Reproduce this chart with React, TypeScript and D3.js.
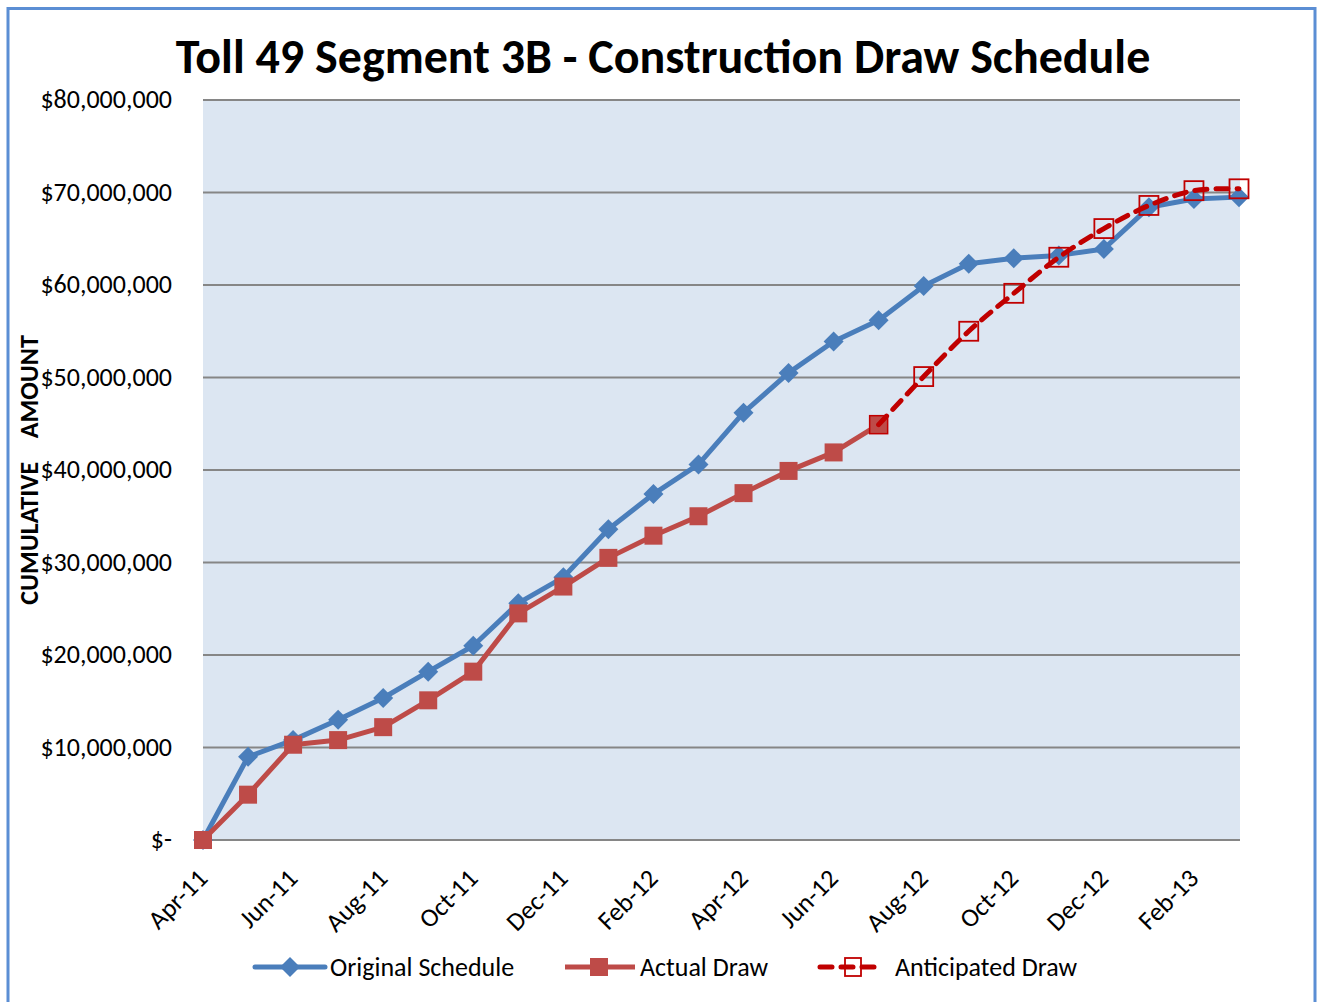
import React from "react";
import * as d3 from "d3";

const months = ["Apr-11","May-11","Jun-11","Jul-11","Aug-11","Sep-11","Oct-11","Nov-11","Dec-11","Jan-12","Feb-12","Mar-12","Apr-12","May-12","Jun-12","Jul-12","Aug-12","Sep-12","Oct-12","Nov-12","Dec-12","Jan-13","Feb-13","Mar-13"];
const originalSchedule = [0, 9.0, 10.8, 13.0, 15.35, 18.2, 21.0, 25.6, 28.4, 33.6, 37.4, 40.6, 46.2, 50.5, 53.9, 56.2, 59.9, 62.3, 62.9, 63.2, 63.9, 68.4, 69.3, 69.5];
const actualDraw = [0, 4.9, 10.3, 10.8, 12.2, 15.1, 18.2, 24.5, 27.4, 30.5, 32.9, 35.0, 37.5, 39.9, 41.9, 44.9];
const anticipatedStart = 15;
const anticipatedDraw = [44.9, 50.1, 55.0, 59.1, 63.0, 66.1, 68.6, 70.2, 70.4];
const yTicks = [0, 10, 20, 30, 40, 50, 60, 70, 80];
const yTickLabels = ["$-", "$10,000,000", "$20,000,000", "$30,000,000", "$40,000,000", "$50,000,000", "$60,000,000", "$70,000,000", "$80,000,000"];

const W = 1318, H = 1002;
const left = 203, right = 1240, top = 100, bottom = 840;
const font = "Carlito, Lato, 'Open Sans', sans-serif";

export default function App() {
  const x = d3.scalePoint<string>().domain(months).range([left, 1239]);
  const y = d3.scaleLinear().domain([0, 80]).range([bottom, top]);
  const lineGen = d3.line<[string, number]>().x(d => x(d[0])!).y(d => y(d[1]));
  const origPts: [string, number][] = originalSchedule.map((v, i) => [months[i], v]);
  const actPts: [string, number][] = actualDraw.map((v, i) => [months[i], v]);
  const antPts: [string, number][] = anticipatedDraw.map((v, i) => [months[i + anticipatedStart], v]);
  const antLine = d3.line<[string, number]>().x(d => x(d[0])!).y(d => y(d[1])).curve(d3.curveCatmullRom.alpha(0.5));
  const diamond = (cx: number, cy: number, r: number) => `M${cx},${cy - r}L${cx + r},${cy}L${cx},${cy + r}L${cx - r},${cy}Z`;
  const blue = "#4a7ebb";
  const red = "#be4b48";
  const dred = "#c00000";
  return (
    <svg width={W} height={H} style={{ position: "absolute", left: 0, top: 0, display: "block" }} fontFamily={font}>
      <rect x={0} y={0} width={W} height={H} fill="#fff" />
      <rect x={8} y={8.5} width={1307} height={1010} fill="#fff" stroke="#5b8ed4" strokeWidth={3} />
      <text x={663} y={73} textAnchor="middle" fontSize={48} fontWeight="bold" fill="#000">Toll 49 Segment 3B - Construction Draw Schedule</text>
      <rect x={left} y={top} width={right - left} height={bottom - top} fill="#dce6f2" />
      {yTicks.map((t) => (
        <line key={t} x1={left} x2={right} y1={y(t)} y2={y(t)} stroke="#868686" strokeWidth={2} />
      ))}
      {yTicks.map((t, i) => (
        <text key={"l" + t} x={172} y={y(t) + 8} textAnchor="end" fontSize={26} fill="#000">{yTickLabels[i]}</text>
      ))}
      <text transform={`translate(38,470) rotate(-90)`} textAnchor="middle" fontSize={26} fontWeight="bold" fill="#000" xmlSpace="preserve">CUMULATIVE    AMOUNT</text>
      {months.map((m, i) => i % 2 === 0 ? (
        <text key={m} transform={`translate(${x(m)! + 6},${bottom + 40}) rotate(-45)`} textAnchor="end" fontSize={26} fill="#000">{m}</text>
      ) : null)}
      <path d={lineGen(origPts)!} fill="none" stroke={blue} strokeWidth={5} strokeLinejoin="round" strokeLinecap="round" />
      {origPts.map((p, i) => (
        <path key={"d" + i} d={diamond(x(p[0])!, y(p[1]), 10)} fill={blue} />
      ))}
      <path d={lineGen(actPts)!} fill="none" stroke={red} strokeWidth={5} strokeLinejoin="round" />
      {actPts.map((p, i) => (
        <rect key={"s" + i} x={x(p[0])! - 9} y={y(p[1]) - 9} width={18} height={18} fill={red} stroke={i === actPts.length - 1 ? dred : "none"} strokeWidth={1.5} />
      ))}
      <path d={antLine(antPts)!} fill="none" stroke={dred} strokeWidth={5} strokeDasharray="12 9" strokeLinecap="round" />
      {antPts.slice(1).map((p, i) => (
        <rect key={"a" + i} x={x(p[0])! - 9.5} y={y(p[1]) - 9.5} width={19} height={19} fill="none" stroke={dred} strokeWidth={1.8} />
      ))}
      {/* legend */}
      <g>
        <line x1={255} x2={325} y1={967} y2={967} stroke={blue} strokeWidth={5} strokeLinecap="round" />
        <path d={diamond(290, 967, 10)} fill={blue} />
        <text x={330} y={976} fontSize={26} fill="#000">Original Schedule</text>
        <line x1={565} x2={635} y1={967} y2={967} stroke={red} strokeWidth={5} />
        <rect x={590} y={958} width={18} height={18} fill={red} />
        <text x={640} y={976} fontSize={26} fill="#000">Actual Draw</text>
        <line x1={820} x2={880} y1={967} y2={967} stroke={dred} strokeWidth={5} strokeDasharray="12 9" strokeLinecap="round" />
        <rect x={845} y={958} width={16} height={18} fill="none" stroke={dred} strokeWidth={1.8} />
        <text x={895} y={976} fontSize={26} fill="#000">Anticipated Draw</text>
      </g>
    </svg>
  );
}
